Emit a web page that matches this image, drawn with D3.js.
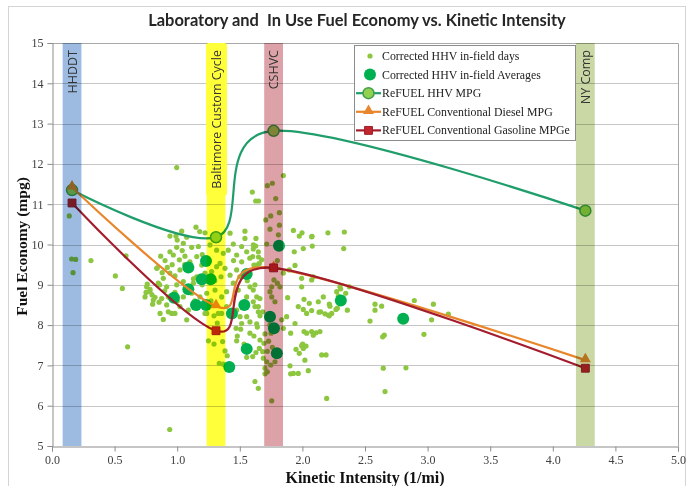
<!DOCTYPE html>
<html>
<head>
<meta charset="utf-8">
<script src="https://cdn.jsdelivr.net/npm/d3@7"></script>
<style>
  html, body { margin: 0; padding: 0; background: #fff; }
  svg { display: block; }
</style>
</head>
<body>
<svg id="chart" width="688" height="486"></svg>
<script>
// ---- Data ----------------------------------------------------------------
const chartTitle = "Laboratory and  In Use Fuel Economy vs. Kinetic Intensity";
const xTitle = "Kinetic Intensity (1/mi)";
const yTitle = "Fuel Economy (mpg)";

// Laboratory drive cycles and their kinetic intensity (1/mi)
const cycleNames = ["HHDDT", "Baltimore Custom Cycle", "CSHVC", "NY Comp"];
const cycleKI = [0.16, 1.31, 1.77, 4.26];

// ReFUEL chassis results per cycle
const hhvMPG = [11.35, 10.18, 12.82, 10.84];
const dieselMPG = [11.42, 8.47, 9.42, 7.13];
const gasolineMPGe = [11.03, 7.86, 9.42, 6.93];

// Corrected HHV in-field days: [kinetic intensity, mpg]
const inFieldDays = [
  [0.138,10.71],[0.157,9.64],[0.189,9.63],[0.168,9.30],[0.311,9.60],[0.506,9.22],
  [0.562,8.91],[0.604,7.46],[0.591,9.72],[0.841,9.42],[0.761,9.02],[0.783,8.89],
  [0.751,8.81],[0.799,8.75],[0.823,8.69],[0.804,8.52],[0.855,8.57],[0.94,5.41],
  [0.996,11.91],
  [1.60,11.30],[1.627,11.08],[1.65,11.08],
  [1.036,10.33],[1.15,10.43],[1.18,10.32],[0.942,10.21],[0.99,10.21],[1.0,10.11],
  [1.076,10.18],[1.222,10.29],[1.422,10.28],[1.448,10.01],[1.541,10.33],[1.608,9.99],
  [1.515,9.95],[1.408,9.86],[1.475,9.74],[1.368,9.78],[1.315,9.86],[1.262,9.99],
  [1.169,9.95],[1.116,9.93],[1.049,10.03],[0.996,9.93],[0.969,9.74],[0.942,9.82],
  [0.903,9.60],[0.868,9.71],[0.836,9.41],[0.921,9.43],[1.017,9.62],[1.062,9.71],
  [1.102,9.57],[1.156,9.70],[1.196,9.49],[1.102,9.37],[1.022,9.37],[0.982,9.22],
  [0.942,9.29],[0.889,9.16],[0.849,9.04],[0.916,8.95],[0.996,9.0],[1.049,9.08],
  [1.129,9.04],[1.156,9.20],[1.222,9.29],[1.275,9.33],[1.315,9.45],[1.342,9.53],
  [1.382,9.41],[1.422,9.24],[1.475,9.37],[1.515,9.57],[1.603,9.70],[1.635,9.49],
  [1.448,9.04],[1.488,8.87],[1.395,8.83],[1.355,8.70],[1.302,8.87],[1.236,8.79],
  [1.182,8.70],[1.116,8.79],[1.049,8.70],[0.982,8.81],[0.929,8.70],[0.876,8.66],
  [0.809,8.62],[0.783,8.83],[0.756,8.95],[0.743,8.70],[0.916,8.50],[1.022,8.46],
  [1.089,8.37],[1.156,8.42],[1.222,8.29],[0.956,8.29],[0.863,8.29],[1.475,8.37],
  [1.555,8.70],[1.621,8.46],[1.608,8.87],[1.395,8.46],[1.355,8.29],[1.555,9.82],
  [1.541,10.15],[1.629,10.15],
  [0.88,9.30],[0.96,9.50],[1.06,9.50],[1.13,9.15],[1.20,9.00],[1.08,8.95],[0.90,8.85],
  [1.00,8.60],[1.14,8.60],[1.27,8.60],[1.30,9.10],[1.35,9.20],[1.45,9.60],[1.50,9.20],
  [1.56,9.10],[1.04,9.85],[1.20,9.75],[0.86,9.00],[1.24,8.45],[1.32,8.05],
  [1.848,11.71],[1.72,11.46],[1.76,11.52],[1.787,11.14],[1.707,10.61],[1.747,10.71],
  [1.816,10.79],[1.816,10.48],[1.741,10.38],[1.808,10.24],[1.928,10.35],[1.975,10.21],
  [1.997,10.29],[2.077,10.20],[2.204,10.29],[2.335,10.31],[2.33,9.90],[2.079,9.96],
  [2.007,9.90],[1.935,9.82],[1.627,9.96],[1.608,9.89],[1.648,9.82],[1.58,9.66],
  [1.65,9.69],[1.675,9.62],[1.656,9.53],[1.613,9.49],[1.715,10.01],[1.80,9.60],
  [1.941,9.48],[1.895,9.37],[1.848,9.29],[1.773,9.12],[1.80,9.04],[1.821,8.95],
  [1.755,8.95],[1.741,8.83],[1.755,8.70],[1.781,8.58],[1.581,8.95],[1.621,9.0],
  [1.635,8.70],[1.608,8.58],[1.661,8.66],[1.648,8.46],[1.683,8.33],[1.882,8.68],
  [1.994,8.95],[2.074,9.12],[2.013,8.64],[2.055,8.54],[1.967,8.46],[2.007,8.39],
  [2.074,8.36],[2.127,8.58],[2.167,8.70],[2.215,8.52],[2.287,8.72],[2.30,8.95],
  [2.146,8.33],[2.18,8.28],[2.207,8.25],[2.234,8.29],[2.268,8.39],[2.58,8.52],
  [2.633,8.47],[2.58,8.37],[2.894,8.61],
  [2.074,10.19],[2.274,8.83],[2.306,8.90],[2.346,8.79],[2.375,8.95],[2.034,8.29],
  [2.133,8.32],[2.215,8.23],[2.22,8.47],[2.279,8.42],[2.359,8.37],[2.54,8.10],
  [3.046,8.52],[3.166,8.27],[3.032,8.13],[2.971,7.77],[2.654,7.75],[2.641,7.71],
  [2.013,7.84],[2.034,7.80],[2.074,7.84],[2.109,7.81],[2.14,7.84],[2.087,7.75],
  [1.994,7.49],[2.007,7.42],[2.154,7.26],[2.189,7.26],[2.02,7.13],[2.047,6.87],
  [2.646,6.93],[2.827,6.94],[2.66,6.35],[2.194,6.18],[1.994,9.16],[2.087,9.20],
  [1.648,8.33],[1.661,8.23],[1.64,7.95],[1.701,7.78],[1.661,7.63],[1.693,7.55],
  [1.656,7.42],[1.683,7.34],[1.603,7.22],[1.688,7.18],[1.715,7.09],[1.701,6.93],
  [1.72,6.84],[1.701,6.79],[1.747,7.01],[1.781,7.09],[1.621,6.60],[1.648,6.43],
  [1.755,6.12],[1.835,8.13],[1.848,7.92],[1.874,8.21],[1.906,7.80],[1.941,8.04],
  [1.949,7.40],[1.975,7.30],[2.002,7.53],[2.029,7.48],[1.901,6.99],[1.906,6.79],
  [1.967,6.80],[1.928,6.80],
  [1.74,8.00],[1.75,7.80],[1.73,7.60],[1.76,7.45],[1.72,7.35],
  [0.889,8.14],[0.929,8.33],[0.982,8.29],[1.076,8.13],[1.236,8.29],[1.294,8.23],
  [1.328,8.29],[1.249,7.61],[1.294,7.53],[1.363,7.59],[1.382,7.36],[1.40,7.24],
  [1.336,7.05],[1.368,7.03],[1.47,7.92],[1.507,7.90],[1.515,8.04],[1.48,7.73],
  [1.475,7.61],[1.534,7.53],[1.581,7.80],[1.613,7.73],[1.555,7.20],[1.629,7.32],
  [1.581,8.08],[1.635,8.03],[1.555,8.21],[1.502,8.21]
];

// Corrected HHV in-field averages: [kinetic intensity, mpg]
const inFieldAverages = [
  [1.089,9.43],[1.23,9.59],[1.267,9.14],[1.196,9.14],[1.089,8.89],[0.974,8.68],
  [1.15,8.50],[1.23,8.50],[1.555,9.27],[1.536,8.50],[1.437,8.29],[1.813,9.97],
  [1.741,8.21],[1.773,7.92],[1.796,7.30],[1.555,7.41],[1.416,6.96],[2.307,8.61],
  [2.805,8.16]
];

const xTickValues = [0, 0.5, 1, 1.5, 2, 2.5, 3, 3.5, 4, 4.5, 5];
const yTickValues = [5, 6, 7, 8, 9, 10, 11, 12, 13, 14, 15];

const legendLabels = [
  "Corrected HHV in-field days",
  "Corrected HHV in-field Averages",
  "ReFUEL HHV MPG",
  "ReFUEL Conventional Diesel MPG",
  "ReFUEL Conventional Gasoline MPGe"
];

// ---- Styling -------------------------------------------------------------
const W = 688, H = 486;
const plot = { left: 52, right: 678, top: 43, bottom: 446 };
const bandHalfWidth = 0.075;
const bandColors = ["#9dbbe1", "#ffff3a", "#dca2a8", "#c9d8a5"];
const col = {
  day: "#8dc63f",
  avg: "#00b050",
  hhv: "#1f9d6a", hhvFill: "#92d050", hhvStroke: "#3f9e4a",
  diesel: "#e8862b",
  gas: "#a31d2d", gasFill: "#c0262c",
  grid: "#c6c6c6", axis: "#8c8c8c", tick: "#404040"
};
const serif = "'Liberation Serif', 'Times New Roman', serif";
const sans = "'Open Sans', 'Noto Sans', sans-serif";

const svg = d3.select("#chart");
svg.append("rect").attr("width", W).attr("height", H).attr("fill", "#fff");
// chart-area frame
svg.append("rect")
  .attr("x", 8.5).attr("y", 6.5).attr("width", 677).attr("height", 490)
  .attr("fill", "none").attr("stroke", "#d4d4d4");

const x = d3.scaleLinear().domain([0, 5]).range([plot.left, plot.right]);
const y = d3.scaleLinear().domain([5, 15]).range([plot.bottom, plot.top]);

// horizontal gridlines
svg.append("g").selectAll("line")
  .data(yTickValues.filter(v => v > 5 && v < 15))
  .join("line")
  .attr("x1", plot.left).attr("x2", plot.right)
  .attr("y1", d => Math.round(y(d)) + 0.5).attr("y2", d => Math.round(y(d)) + 0.5)
  .attr("stroke", col.grid).attr("stroke-width", 1);

// plot border (top / right)
svg.append("path")
  .attr("d", `M${plot.left},${plot.top + 0.5}H${plot.right + 0.5}V${plot.bottom}`)
  .attr("fill", "none").attr("stroke", "#a8a8a8");

// axes
const yAxis = svg.append("g")
  .attr("transform", `translate(${plot.left + 0.5},0)`)
  .call(d3.axisLeft(y).tickValues(yTickValues).tickFormat(d3.format("d")).tickSize(5).tickPadding(4));
const xAxis = svg.append("g")
  .attr("transform", `translate(0,${plot.bottom + 0.5})`)
  .call(d3.axisBottom(x).tickValues(xTickValues).tickFormat(d3.format(".1f")).tickSize(5).tickPadding(4));
[xAxis, yAxis].forEach(g => {
  g.select(".domain").attr("stroke", col.axis);
  g.selectAll(".tick line").attr("stroke", col.axis);
  g.selectAll(".tick text").attr("fill", col.tick)
    .style("font-family", serif).style("font-size", "12px");
});

// in-field days
svg.append("g").selectAll("circle")
  .data(inFieldDays)
  .join("circle")
  .attr("cx", d => x(d[0])).attr("cy", d => y(d[1]))
  .attr("r", 2.6).attr("fill", col.day);

// in-field averages
svg.append("g").selectAll("circle")
  .data(inFieldAverages)
  .join("circle")
  .attr("cx", d => x(d[0])).attr("cy", d => y(d[1]))
  .attr("r", 6).attr("fill", col.avg);

// ReFUEL series (smoothed lines through the cycle points)
const line = d3.line().x(d => x(d[0])).y(d => y(d[1])).curve(d3.curveCardinal.tension(0));
const series = [
  { vals: hhvMPG, stroke: col.hhv, marker: "circle" },
  { vals: dieselMPG, stroke: col.diesel, marker: "triangle" },
  { vals: gasolineMPGe, stroke: col.gas, marker: "square" }
];
function drawMarker(g, type, cx, cy) {
  if (type === "circle") {
    g.append("circle").attr("cx", cx).attr("cy", cy).attr("r", 5.5)
      .attr("fill", col.hhvFill).attr("stroke", col.hhvStroke).attr("stroke-width", 1.5);
  } else if (type === "triangle") {
    g.append("path").attr("d", d3.symbol(d3.symbolTriangle, 52)())
      .attr("transform", `translate(${cx},${cy - 1})`).attr("fill", col.diesel);
  } else {
    g.append("path").attr("d", d3.symbol(d3.symbolSquare, 62)())
      .attr("transform", `translate(${cx},${cy})`)
      .attr("fill", col.gasFill).attr("stroke", col.gas).attr("stroke-width", 1);
  }
}
series.forEach(s => {
  const pts = cycleKI.map((k, i) => [k, s.vals[i]]);
  const g = svg.append("g");
  g.append("path").attr("d", line(pts))
    .attr("fill", "none").attr("stroke", s.stroke).attr("stroke-width", 2.2);
  pts.forEach(p => drawMarker(g, s.marker, x(p[0]), y(p[1])));
});

// drive-cycle bands
svg.append("g").style("mix-blend-mode", "multiply").selectAll("rect")
  .data(cycleKI)
  .join("rect")
  .attr("x", d => x(d - bandHalfWidth))
  .attr("width", d => x(d + bandHalfWidth) - x(d - bandHalfWidth))
  .attr("y", plot.top).attr("height", plot.bottom - plot.top)
  .attr("fill", (d, i) => bandColors[i]);

// band labels (rotated, reading upward from the top of the plot)
const labelG = svg.append("g");
cycleKI.forEach((k, i) => {
  const t = labelG.append("text")
    .attr("transform", `translate(${x(k) + 4.5},${plot.top + 7}) rotate(-90)`)
    .attr("text-anchor", "end")
    .style("font-family", sans).style("font-size", "12.5px").attr("fill", "#333")
    .text(cycleNames[i]);
  if (i === 1) {
    const len = t.node().getComputedTextLength();
    labelG.insert("rect", "text")
      .attr("x", x(k) - 10).attr("width", 21)
      .attr("y", plot.top).attr("height", len + 14)
      .attr("rx", 3).attr("fill", bandColors[1]);
  }
});

// title
const title = svg.append("text")
  .attr("x", 357).attr("y", 26).attr("text-anchor", "middle")
  .style("font-family", "Lato, 'Open Sans', sans-serif").style("font-weight", "bold")
  .style("font-size", "16px").style("white-space", "pre").attr("fill", "#262626")
  .text(chartTitle);
const tw = title.node().getComputedTextLength();
title.style("font-size", (16 * 418 / tw).toFixed(2) + "px");

// axis titles
svg.append("text")
  .attr("transform", `translate(27,${(plot.top + plot.bottom) / 2 + 2}) rotate(-90)`)
  .attr("text-anchor", "middle")
  .style("font-family", serif).style("font-weight", "bold").style("font-size", "15.5px")
  .attr("fill", "#111").text(yTitle);
svg.append("text")
  .attr("x", 365).attr("y", 483).attr("text-anchor", "middle")
  .style("font-family", serif).style("font-weight", "bold").style("font-size", "16px")
  .attr("fill", "#111").text(xTitle);

// legend
const lg = svg.append("g");
lg.append("rect").attr("x", 354.5).attr("y", 45.5).attr("width", 221).attr("height", 95)
  .attr("fill", "#fff").attr("stroke", "#8c8c8c");
const rowY = i => 56 + i * 18.6;
const legendTexts = [];
legendLabels.forEach((lab, i) => {
  const cy = rowY(i);
  if (i === 0) lg.append("circle").attr("cx", 370).attr("cy", cy).attr("r", 2.6).attr("fill", col.day);
  if (i === 1) lg.append("circle").attr("cx", 370).attr("cy", cy).attr("r", 6).attr("fill", col.avg);
  if (i >= 2) {
    const s = series[i - 2];
    lg.append("line").attr("x1", 356).attr("x2", 381).attr("y1", cy).attr("y2", cy)
      .attr("stroke", s.stroke).attr("stroke-width", 2.2);
    drawMarker(lg, s.marker, 368.5, cy);
  }
  legendTexts.push(lg.append("text").attr("x", 382).attr("y", cy + 4)
    .style("font-family", serif).style("font-size", "12px").attr("fill", "#222")
    .text(lab));
});
// fit the longest legend entry inside the box
const widest = d3.max(legendTexts, t => t.node().getComputedTextLength());
const legendFont = Math.min(12.5, 12 * 188 / widest);
legendTexts.forEach(t => t.style("font-size", legendFont.toFixed(2) + "px"));
</script>
</body>
</html>
